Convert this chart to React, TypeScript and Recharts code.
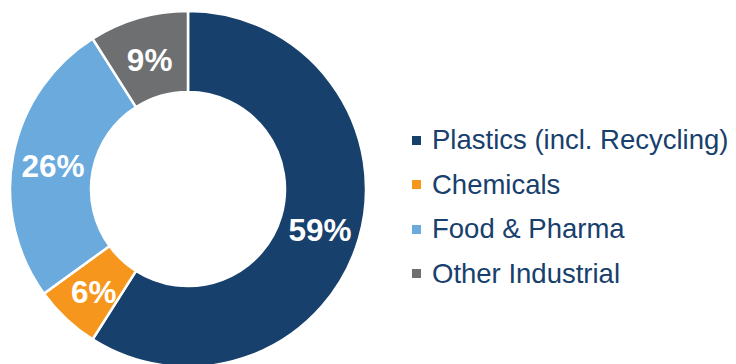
import React from 'react';
import { PieChart, Pie, Cell, Legend } from 'recharts';

const segments = ['Plastics (incl. Recycling)', 'Chemicals', 'Food & Pharma', 'Other Industrial'];
const shares = [59, 6, 26, 9];
const colors = ['#17406D', '#F7961D', '#6AAADC', '#6E6F71'];

const data = segments.map((name, i) => ({ name, value: shares[i] }));

const RADIAN = Math.PI / 180;

const renderLabel = (props: any) => {
  const { cx, cy, midAngle, innerRadius, outerRadius, value } = props;
  const r = (innerRadius + outerRadius) / 2;
  const x = cx + r * Math.cos(-midAngle * RADIAN);
  const y = cy + r * Math.sin(-midAngle * RADIAN);
  return (
    <text
      x={x}
      y={y + 3}
      fill="#fff"
      textAnchor="middle"
      dominantBaseline="central"
      style={{ fontFamily: '"Liberation Sans", Arial, sans-serif', fontWeight: 700, fontSize: 31.5 }}
    >
      {`${value}%`}
    </text>
  );
};

const LegendList = () => (
  <div style={{ fontFamily: '"Liberation Sans", Arial, sans-serif' }}>
    {segments.map((name, i) => (
      <div key={name} style={{ display: 'flex', alignItems: 'center', height: 44.5 }}>
        <span style={{ width: 9, height: 9, background: colors[i], marginRight: 11, flexShrink: 0 }} />
        <span style={{ fontSize: 27.5, color: '#17406D', whiteSpace: 'nowrap' }}>{name}</span>
      </div>
    ))}
  </div>
);

export default function App() {
  return (
    <div style={{ position: 'absolute', left: 0, top: 0, width: 736, height: 364, background: '#fff' }}>
      <PieChart width={736} height={364} margin={{ top: 0, right: 0, bottom: 0, left: 0 }}>
        <Pie
          data={data}
          dataKey="value"
          cx={188}
          cy={189}
          innerRadius={97}
          outerRadius={178}
          startAngle={90}
          endAngle={-270}
          stroke="#fff"
          strokeWidth={2.5}
          label={renderLabel}
          labelLine={false}
          isAnimationActive={false}
        >
          {data.map((d, i) => (
            <Cell key={d.name} fill={colors[i]} />
          ))}
        </Pie>
        <Legend
          layout="vertical"
          content={<LegendList />}
          wrapperStyle={{ left: 412, top: 118, width: 324 }}
        />
      </PieChart>
    </div>
  );
}
